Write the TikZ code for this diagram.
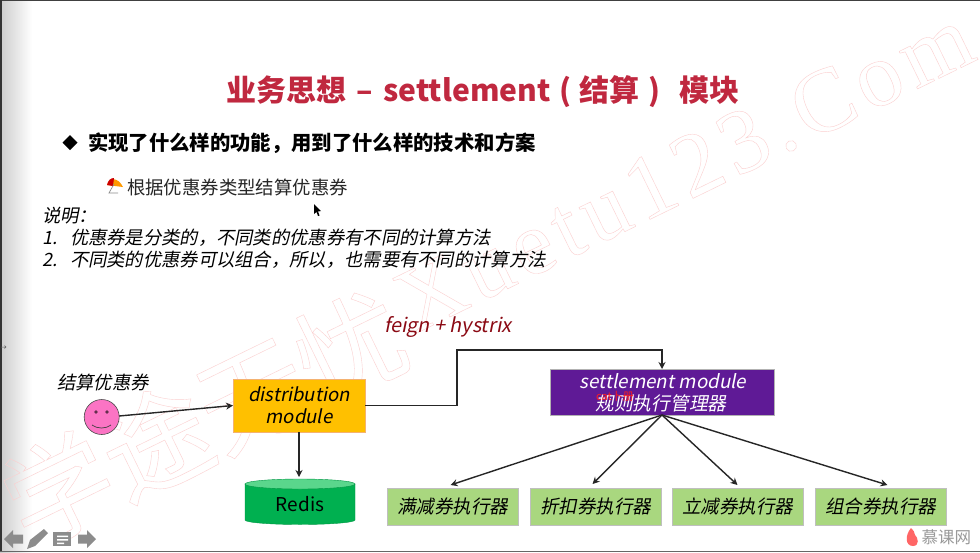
\documentclass[tikz,border=0pt]{standalone}
\usepackage{fontspec}
\setmainfont{Noto Sans CJK SC}
\newfontfamily\cjki[FakeSlant=0.2]{Noto Sans CJK SC}
\newfontfamily\wmserif[LetterSpace=7]{Liberation Serif}
\usetikzlibrary{arrows.meta,shapes.geometric,calc}
\definecolor{titlered}{HTML}{C0283F}
\definecolor{orangebox}{HTML}{FFC000}
\definecolor{purplebox}{HTML}{5F1A96}
\definecolor{greenbox}{HTML}{A9D77F}
\definecolor{redisgreen}{HTML}{00B050}
\definecolor{redistop}{HTML}{5AD68C}
\definecolor{smile}{HTML}{FB74C4}
\definecolor{wm}{HTML}{FBCFCF}
\definecolor{feigncol}{HTML}{8B0A14}
\definecolor{icongray}{HTML}{8C8C8C}
\newcommand{\outlinetext}[1]{\special{pdf:code 1 Tr 0.4 w}#1\special{pdf:code 0 Tr}}
\tikzset{
  x=1pt,y=-1pt,
  every node/.style={inner sep=0pt,outer sep=0pt,align=center},
  conn/.style={draw=black!85,line width=1.4pt,-{Stealth[length=7pt,width=7pt]}},
  watermark/.style={text=wm,rotate=26},
  slabel/.style={font=\cjki\fontsize{18.3}{22}\selectfont},
  execbox/.style={fill=greenbox,draw=black!25,line width=.5pt,minimum width=131.5pt,minimum height=37pt,font=\cjki\fontsize{18.5}{22}\selectfont},
}
\begin{document}
\begin{tikzpicture}
\useasboundingbox (0,0) rectangle (980,552);
\fill[white] (0,0) rectangle (980,552);
\shade[left color=black!20,right color=white,shading angle=90] (0,0) rectangle (32,552);
\fill[black!75] (0,0) rectangle (980,1);
\fill[black!80] (0,0) rectangle (1.5,552);
\fill[black!60] (0,550.5) rectangle (980,552);
\draw[black!60,line width=.5pt] (1,347) -- (6,347) (4.5,345.5) -- (6,347) -- (4.5,348.5);
% watermark
\node[watermark,font=\fontsize{108}{108}\selectfont] (wmcn) at (204,418) {\outlinetext{学途无忧}};
\node[watermark,font=\wmserif\fontsize{91}{91}\selectfont] (wmen) at (684,170) {\outlinetext{Xuetu123.Com}};
% title
\node[anchor=west,text=titlered,font=\bfseries\fontsize{30}{34}\selectfont] (title) at (226,92) {业务思想\hspace{11pt}–\hspace{10pt}settlement\hspace{9pt}(\hspace{8pt}结算\hspace{9pt})\hspace{19pt}模块};
\node[diamond,aspect=1,fill=black,minimum width=15pt,minimum height=15pt] (bullet) at (70,142.5) {};
\node[anchor=west,font=\bfseries\fontsize{20.35}{24}\selectfont] (head) at (88,143) {实现了什么样的功能，用到了什么样的技术和方案};
% umbrella icon
\fill[orange!80!yellow] (107,185) .. controls (109,177) and (118,177) .. (123,187) -- cycle;
\fill[red!80!black] (107,185) .. controls (108,180) and (111,178) .. (114,178) -- (113,186) -- cycle;
\draw[black!45,line width=.7pt] (114,184) -- (109,193) -- (118,193);
\node[anchor=west,text=black!85,font=\fontsize{18.4}{22}\selectfont] (sub) at (127,187) {根据优惠券类型结算优惠券};
\node[anchor=west,slabel] (sm) at (42,216) {说明：};
\node[anchor=west,slabel] (n1) at (42,238) {1.};
\node[anchor=west,slabel] (l1) at (70,238) {优惠券是分类的，不同类的优惠券有不同的计算方法};
\node[anchor=west,slabel] (n2) at (42,260) {2.};
\node[anchor=west,slabel] (l2) at (70,260) {不同类的优惠券可以组合，所以，也需要有不同的计算方法};
% cursor
\fill[black] (314,204) -- (314,214) -- (316.5,212) -- (318,216) -- (319.5,215.5) -- (318,211.5) -- (321,211) -- cycle;
% diagram
\node[slabel,anchor=center] (user) at (103,383) {结算优惠券};
\node[circle,fill=smile,draw=black!70,line width=.6pt,minimum size=35pt] (face) at (101.7,417) {};
\fill[black!60!smile] (96,412) circle (1.8) (107,412) circle (1.8);
\draw[black!75,line width=.7pt] (92,425) .. controls (97,429) and (106,429) .. (111,425);
\node[fill=orangebox,draw=orange!70!brown!60,line width=.4pt,minimum width=132pt,minimum height=53pt,font=\cjki\fontsize{18.6}{22}\selectfont] (dist) at (299,405.5) {distribution\\module};
% Redis cylinder
\fill[redisgreen,draw=redisgreen!85!black,line width=.4pt] (245,484) -- (245,520) arc[start angle=180,end angle=360,x radius=55,y radius=-4.5] -- (355,484) -- cycle;
\fill[redistop,draw=redisgreen!85!black,line width=.4pt] (300,484) ellipse[x radius=55,y radius=5];
\node[minimum width=110pt,minimum height=46pt,font=\fontsize{19}{22}\selectfont] (redis) at (300,504) {Redis};
\node[text=feigncol,anchor=west,font=\cjki\fontsize{19.8}{22}\selectfont] (feign) at (384,327) {feign + hystrix};
\node[fill=purplebox,draw=black!30,line width=.5pt,minimum width=224pt,minimum height=46pt,text=white] (settle) at (662,392) {};
\node[text=white,font=\cjki\fontsize{18.8}{22}\selectfont] (st1) at (663,381) {settlement module};
\node[text=white,font=\cjki\fontsize{18.7}{22}\selectfont] (st2) at (661,403.5) {规则执行管理器};
\node[text=red!85!pink,font=\fontsize{11}{12}\selectfont] (cat) at (615,396) {cat卜册};
\node[execbox] (b1) at (452.5,506.5) {满减券执行器};
\node[execbox] (b2) at (595.5,506.5) {折扣券执行器};
\node[execbox] (b3) at (737.5,506.5) {立减券执行器};
\node[execbox] (b4) at (880.5,506.5) {组合券执行器};
\coordinate (up) at (457,350);
\path[conn] (face.east) ++(0,-1) -- (dist.west);
\path[conn] (dist.south) -- ($(redis.north)+(-1,-4)$);
\path[conn] (dist.east) -- (dist.east -| up) -- (up) -- (up -| settle.north) -- (settle.north);
\path[conn] (settle.south) -- ($(b1.north)+(-2,-3)$);
\path[conn] (settle.south) -- ($(b2.north)+(-3,-4)$);
\path[conn] (settle.south) -- ($(b3.north)+(0,-3)$);
\path[conn] (settle.south) -- ($(b4.north)+(7,-3)$);
% player icons
\fill[icongray] (4,539) -- (13,530) -- (13,534.5) -- (23,534.5) -- (23,543.5) -- (13,543.5) -- (13,548) -- cycle;
\fill[icongray] (27,549) -- (30,540) -- (44,529) -- (48,533) -- (35,546) -- cycle;
\fill[icongray] (53,532) rectangle (71,546);
\fill[white] (57,535.5) rectangle (68,537) (57,539) rectangle (68,540.5) (57,542.5) rectangle (64,544);
\fill[icongray] (96,539) -- (87,530) -- (87,534.5) -- (78,534.5) -- (78,543.5) -- (87,543.5) -- (87,548) -- cycle;
% logo
\fill[red!60!white] (911,528) .. controls (905,535) and (905,546) .. (913,546) .. controls (920,546) and (918,537) .. (915,535) .. controls (915,532) and (913,530) .. (911,528) -- cycle;
\node[anchor=west,text=black!40,font=\fontsize{16.5}{18}\selectfont] (logo) at (921.5,537.5) {慕课网};
\end{tikzpicture}
\end{document}
